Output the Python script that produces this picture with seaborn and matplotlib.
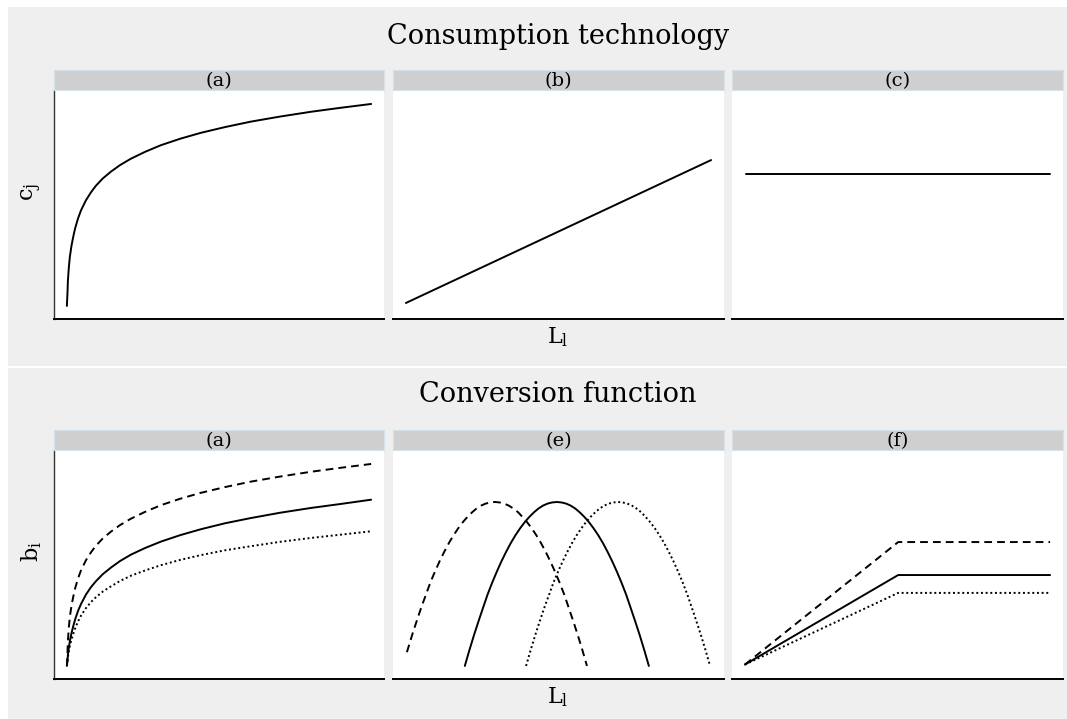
import pandas as pd
import seaborn as sns
import matplotlib.pyplot as plt
from matplotlib.patches import Rectangle

# L_l positions and values (both axes on a 0-100 scale)
log_x = [3.9, 4.1, 4.2, 4.5, 4.8, 5.3, 5.8, 6.4, 7.3, 8.2, 9.7, 11.2, 12.7, 14.8,
         17.3, 20.0, 23.3, 27.6, 32.4, 38.2, 44.5, 51.8, 59.7, 68.5, 77.9, 86.7, 96.1]
tech_a = [5.7, 11.9, 16.4, 22.6, 27.1, 32.0, 35.7, 39.6, 44.0, 47.5, 51.9, 55.3, 58.2, 61.4,
          64.4, 67.2, 70.0, 73.0, 75.9, 78.7, 81.3, 83.8, 86.2, 88.4, 90.5, 92.2, 93.9]
tech_b_x = [3.9, 96.1]
tech_b = [7.0, 69.4]
tech_c_x = [4.2, 96.1]
tech_c = [63.3, 63.3]

conv_a_high = [5.7, 11.9, 16.4, 22.6, 27.1, 32.0, 35.7, 39.6, 44.0, 47.5, 51.9, 55.3, 58.2, 61.4,
               64.4, 67.2, 70.0, 73.0, 75.9, 78.7, 81.3, 83.8, 86.2, 88.4, 90.5, 92.2, 93.9]
conv_a_mid = [5.7, 8.1, 10.2, 13.7, 16.5, 20.0, 22.9, 26.0, 29.8, 32.8, 36.9, 40.1, 42.7, 45.8,
              48.7, 51.5, 54.3, 57.2, 60.0, 62.8, 65.4, 68.0, 70.3, 72.6, 74.7, 76.4, 78.3]
conv_a_low = [5.7, 7.6, 9.3, 12.2, 14.4, 17.3, 19.6, 22.1, 25.2, 27.7, 31.0, 33.6, 35.7, 38.2,
              40.5, 42.8, 45.1, 47.4, 49.7, 52.0, 54.1, 56.2, 58.0, 59.9, 61.6, 63.0, 64.5]

conv_e_high_x = [4.2, 5.8, 7.2, 8.6, 10.0, 11.3, 12.7, 14.1, 15.5, 16.9, 18.3, 19.7, 21.1, 22.5,
                 23.9, 25.2, 26.6, 28.0, 29.4, 30.8, 32.2, 33.6, 35.0, 36.4, 37.8, 39.1, 40.5,
                 41.9, 43.3, 44.7, 46.1, 47.5, 48.9, 50.3, 51.7, 53.0, 54.4, 55.8, 57.2, 58.6]
conv_e_high = [11.7, 19.3, 25.5, 31.5, 37.0, 42.2, 47.0, 51.5, 55.6, 59.4, 62.8, 65.8, 68.5, 70.8,
               72.8, 74.4, 75.7, 76.6, 77.1, 77.3, 77.1, 76.6, 75.7, 74.4, 72.8, 70.8, 68.5,
               65.8, 62.8, 59.4, 55.6, 51.5, 47.0, 42.2, 37.0, 31.5, 25.5, 19.3, 12.7, 5.7]
conv_e_mid_x = [21.7, 23.1, 24.5, 25.9, 27.3, 28.6, 30.0, 31.4, 32.8, 34.2, 35.6, 37.0, 38.4, 39.8,
                41.2, 42.6, 43.9, 45.3, 46.7, 48.1, 49.5, 50.9, 52.3, 53.7, 55.1, 56.4, 57.8,
                59.2, 60.6, 62.0, 63.4, 64.8, 66.2, 67.6, 69.0, 70.4, 71.7, 73.1, 74.5, 75.9, 77.3]
conv_e_mid = [5.7, 12.7, 19.3, 25.5, 31.5, 37.0, 42.2, 47.0, 51.5, 55.6, 59.4, 62.8, 65.8, 68.5,
              70.8, 72.8, 74.4, 75.7, 76.6, 77.1, 77.3, 77.1, 76.6, 75.7, 74.4, 72.8, 70.8,
              68.5, 65.8, 62.8, 59.4, 55.6, 51.5, 47.0, 42.2, 37.0, 31.5, 25.5, 19.3, 12.7, 5.7]
conv_e_low_x = [40.2, 41.6, 43.0, 44.4, 45.8, 47.2, 48.5, 49.9, 51.3, 52.7, 54.1, 55.5, 56.9, 58.3,
                59.7, 61.1, 62.4, 63.8, 65.2, 66.6, 68.0, 69.4, 70.8, 72.2, 73.6, 75.0, 76.3,
                77.7, 79.1, 80.5, 81.9, 83.3, 84.7, 86.1, 87.5, 88.9, 90.2, 91.6, 93.0, 94.4, 95.8]
conv_e_low = [5.7, 12.7, 19.3, 25.5, 31.5, 37.0, 42.2, 47.0, 51.5, 55.6, 59.4, 62.8, 65.8, 68.5,
              70.8, 72.8, 74.4, 75.7, 76.6, 77.1, 77.3, 77.1, 76.6, 75.7, 74.4, 72.8, 70.8,
              68.5, 65.8, 62.8, 59.4, 55.6, 51.5, 47.0, 42.2, 37.0, 31.5, 25.5, 19.3, 12.7, 5.7]

conv_f_x = [3.9, 50.2, 96.1]
conv_f_high = [6.3, 59.8, 59.8]
conv_f_mid = [6.3, 45.4, 45.4]
conv_f_low = [6.3, 37.6, 37.6]

top_labels = ["(a)", "(b)", "(c)"]
bottom_labels = ["(a)", "(e)", "(f)"]


def frame(panel, x, y, curve):
    return pd.DataFrame({"panel": panel, "L": x, "value": y, "curve": curve})


df = pd.concat([
    frame("t1", log_x, tech_a, "mid"),
    frame("t2", tech_b_x, tech_b, "mid"),
    frame("t3", tech_c_x, tech_c, "mid"),
    frame("b1", log_x, conv_a_high, "high"),
    frame("b1", log_x, conv_a_mid, "mid"),
    frame("b1", log_x, conv_a_low, "low"),
    frame("b2", conv_e_high_x, conv_e_high, "high"),
    frame("b2", conv_e_mid_x, conv_e_mid, "mid"),
    frame("b2", conv_e_low_x, conv_e_low, "low"),
    frame("b3", conv_f_x, conv_f_high, "high"),
    frame("b3", conv_f_x, conv_f_mid, "mid"),
    frame("b3", conv_f_x, conv_f_low, "low"),
], ignore_index=True)

sns.set_style("white")
plt.rcParams["font.family"] = ["DejaVu Serif"]
plt.rcParams["mathtext.fontset"] = "dejavuserif"
plt.rcParams["text.color"] = "black"

W, H = 1067, 719
fig = plt.figure(figsize=(W / 100, H / 100), dpi=100)
fig.patch.set_facecolor("white")

# gray backgrounds of the two stacked plots
fig.add_artist(Rectangle((8 / W, (H - 366) / H), (W - 8) / W, (366 - 7) / H,
                         transform=fig.transFigure, facecolor="#EFEFEF", edgecolor="none", zorder=-5))
fig.add_artist(Rectangle((8 / W, 0), (W - 8) / W, (H - 368) / H,
                         transform=fig.transFigure, facecolor="#EFEFEF", edgecolor="none", zorder=-5))

dash_map = {"mid": "", "high": (4, 2.6), "low": (1, 1.4)}
panel_x = [(54, 384), (393, 724), (732, 1063)]
rows = [
    (["t1", "t2", "t3"], top_labels, 70, 90, 319, "Consumption technology", 37, r"$\mathrm{c}_\mathrm{j}$", 337),
    (["b1", "b2", "b3"], bottom_labels, 430, 450, 679, "Conversion function", 394, r"$\mathrm{b}_\mathrm{i}$", 697),
]

for panels, labels, strip_top, ax_top, ax_bot, title, title_y, ylab, xlab_y in rows:
    for i, (p, lab) in enumerate(zip(panels, labels)):
        x0, x1 = panel_x[i]
        ax = fig.add_axes([x0 / W, (H - ax_bot) / H, (x1 - x0) / W, (ax_bot - ax_top) / H])
        ax.set_facecolor("white")
        sns.lineplot(data=df[df.panel == p], x="L", y="value", style="curve",
                     dashes=dash_map, color="black", linewidth=1.4,
                     estimator=None, sort=False, legend=False, ax=ax)
        ax.set_xlim(0, 100)
        ax.set_ylim(0, 100)
        ax.set_xticks([])
        ax.set_yticks([])
        ax.set_xlabel("")
        ax.set_ylabel("")
        for s in ["top", "right"]:
            ax.spines[s].set_visible(False)
        ax.spines["left"].set_visible(i == 0)
        ax.spines["left"].set_color("#333333")
        ax.spines["left"].set_linewidth(1.0)
        ax.spines["bottom"].set_color("black")
        ax.spines["bottom"].set_linewidth(1.4)

        sax = fig.add_axes([x0 / W, (H - ax_top) / H, (x1 - x0) / W, (ax_top - strip_top) / H])
        sax.set_facecolor("#CFCFCF")
        sax.set_xticks([])
        sax.set_yticks([])
        for s in sax.spines.values():
            s.set_color("#D6E2EA")
            s.set_linewidth(0.8)
        sax.text(0.5, 0.45, lab, ha="center", va="center", fontsize=14, transform=sax.transAxes)

    fig.text(558 / W, (H - title_y) / H, title, ha="center", va="center", fontsize=19.5)
    fig.text(558 / W, (H - xlab_y) / H, r"$\mathrm{L}_\mathrm{l}$", ha="center", va="center", fontsize=16)
    fig.text(32 / W, (H - (strip_top + ax_bot) / 2 + 3) / H, ylab, ha="center", va="center",
             rotation=90, fontsize=16)

fig.savefig("out.png", dpi=100)
